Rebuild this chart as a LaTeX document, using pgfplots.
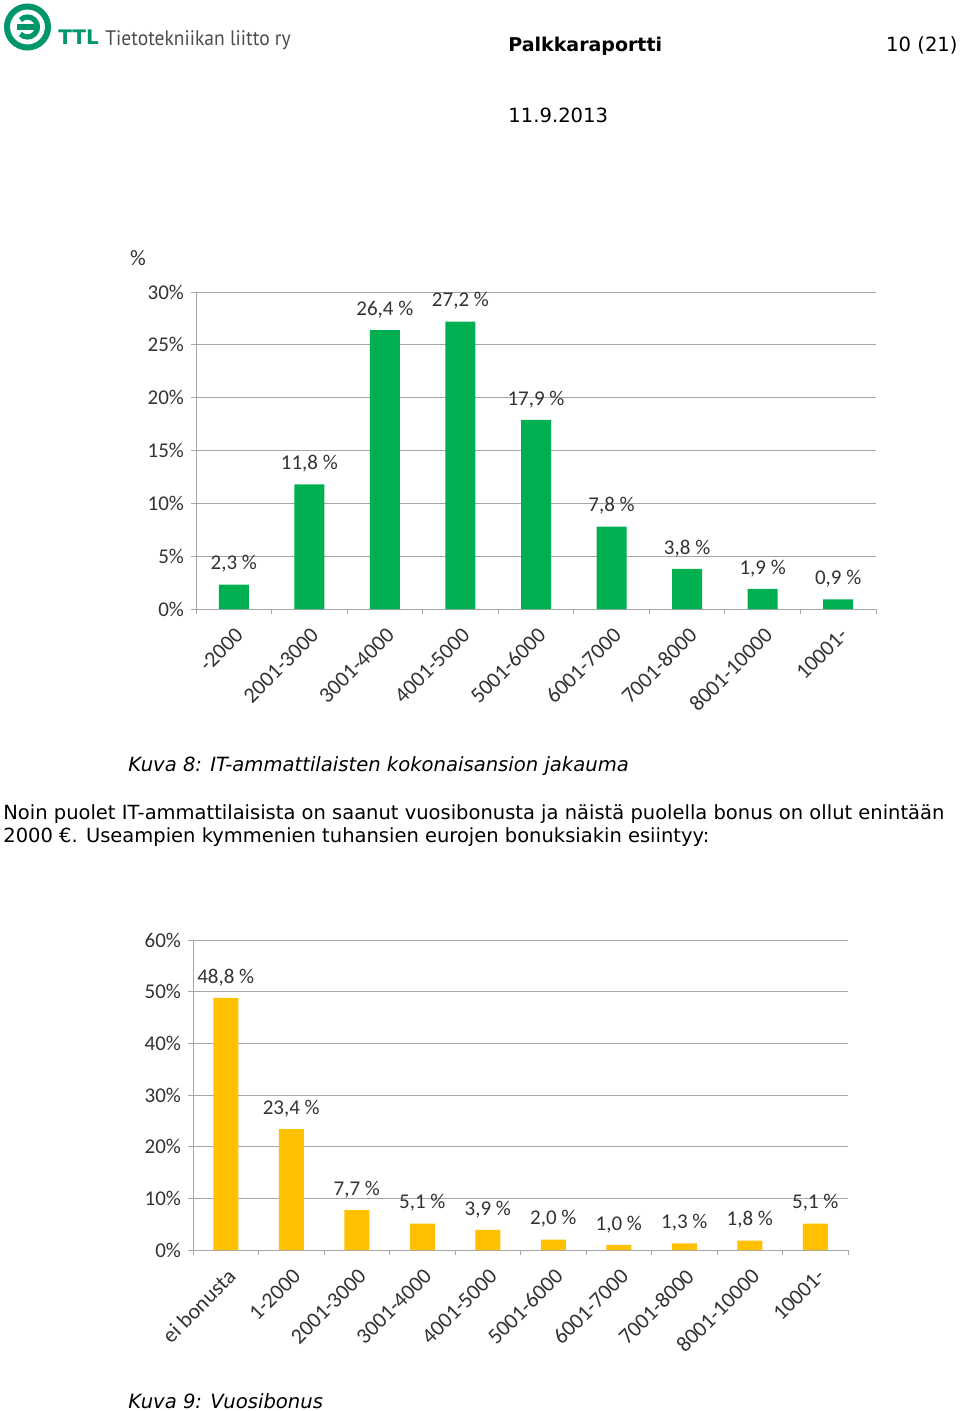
\documentclass[border=0pt]{standalone}
\usepackage{fontspec}
\usepackage{graphicx}
\usepackage{pgfplots}
\pgfplotsset{compat=1.18}
\setmainfont{DejaVu Sans}
\newfontfamily\calibri{Carlito}
\newfontfamily\ptsans{PT Sans}
\definecolor{barG}{HTML}{00B050}
\definecolor{barY}{HTML}{FFC000}
\definecolor{ttl}{HTML}{00966C}
\definecolor{gridc}{HTML}{A6A6A6}
\definecolor{lbl}{HTML}{333333}

\pgfplotsset{
  mybar/.style={
    scale only axis,
    axis x line*=bottom, axis y line*=left,
    axis line style={draw=gridc,-},
    ymajorgrids, grid style={draw=gridc, line width=0.5pt},
    tick align=outside, major tick length=2.5pt,
    tick style={draw=gridc, line width=0.5pt},
    ymin=0,
    ybar,
    yticklabel style={font=\calibri\fontsize{10.5}{12}\selectfont, text=lbl},
    xticklabels={},
    extra x tick style={major tick length=0pt},
    extra x tick labels={},
    extra x tick style={tick label style={rotate=45, anchor=north east, xshift=-2.5pt, yshift=-2.8pt, font=\calibri\fontsize{11}{12}\selectfont, text=lbl}},
    nodes near coords={\pgfmathprintnumber[fixed,fixed zerofill,precision=1,use comma,assume math mode=true]{\pgfplotspointmeta}~\%},
    every node near coord/.append style={font=\calibri\fontsize{10.5}{12}\selectfont, text=lbl, anchor=south, yshift=2.5pt},
  }
}

\begin{document}
\begin{tikzpicture}
\begin{scope}[x=0.5pt, y=-0.5pt]
  \useasboundingbox (0,0) rectangle (960,1411);
  % logo
  \draw[ttl, line width=3pt] (27.5,27) circle (20.5);
  \draw[ttl, line width=2.6pt] (27.5,27) ++(135:10) arc[start angle=135, end angle=-135, radius=10];
  \draw[ttl, line width=2.6pt] (17,27) -- (35,27);
  \node[anchor=base west, inner sep=0, text=ttl, font=\bfseries\fontsize{10}{12}\selectfont] at (58,45) {TTL};
  \node[anchor=base west, inner sep=0, text=black!70, font=\ptsans\fontsize{10.5}{12}\selectfont] at (105,46) {\scalebox{0.93}[1]{Tietotekniikan liitto ry}};
  % header
  \node[anchor=base west, inner sep=0, font=\bfseries\fontsize{9.5}{11}\selectfont] at (508,52) {Palkkaraportti};
  \node[anchor=base east, inner sep=0, font=\fontsize{9.8}{11}\selectfont] at (958,52) {10 (21)};
  \node[anchor=base west, inner sep=0, font=\fontsize{9.8}{11}\selectfont] at (508,123) {11.9.2013};
  % chart 1 unit
  \node[anchor=center, inner sep=0, text=lbl, font=\calibri\fontsize{11}{12}\selectfont] at (138,258) {\%};
  % captions and text
  \node[anchor=base west, inner sep=0, font=\itshape\fontsize{9.8}{11}\selectfont] at (128,771) {Kuva 8: IT-ammattilaisten kokonaisansion jakauma};
  \node[anchor=base west, inner sep=0, font=\fontsize{9.75}{11}\selectfont] at (3,819) {Noin puolet IT-ammattilaisista on saanut vuosibonusta ja näistä puolella bonus on ollut enintään};
  \node[anchor=base west, inner sep=0, font=\fontsize{9.75}{11}\selectfont] at (3,842) {2000 €. Useampien kymmenien tuhansien eurojen bonuksiakin esiintyy:};
  \node[anchor=base west, inner sep=0, font=\itshape\fontsize{9.8}{11}\selectfont] at (128,1408) {Kuva 9: Vuosibonus};
\end{scope}

\begin{axis}[mybar,
  at={(98pt,-304.5pt)}, anchor=south west,
  width=340pt, height=158.5pt,
  xmin=-0.5, xmax=8.5, ymax=30,
  ytick={0,5,...,30},
  yticklabels={0\%,5\%,10\%,15\%,20\%,25\%,30\%},
  xtick={-0.5,0.5,...,8.5},
  extra x ticks={0,1,...,8},
  extra x tick labels={{-2000},{2001-3000},{3001-4000},{4001-5000},{5001-6000},{6001-7000},{7001-8000},{8001-10000},{10001-}},
  bar width=15pt,
]
\addplot[fill=barG, draw=none] coordinates {(0,2.3) (1,11.8) (2,26.4) (3,27.2) (4,17.9) (5,7.8) (6,3.8) (7,1.9) (8,0.9)};
\end{axis}

\begin{axis}[mybar,
  at={(96.5pt,-625pt)}, anchor=south west,
  width=327.5pt, height=155pt,
  xmin=-0.5, xmax=9.5, ymax=60,
  ytick={0,10,...,60},
  yticklabels={0\%,10\%,20\%,30\%,40\%,50\%,60\%},
  xtick={-0.5,0.5,...,9.5},
  extra x ticks={0,1,...,9},
  extra x tick labels={{ei bonusta},{1-2000},{2001-3000},{3001-4000},{4001-5000},{5001-6000},{6001-7000},{7001-8000},{8001-10000},{10001-}},
  bar width=12.5pt,
]
\addplot[fill=barY, draw=none] coordinates {(0,48.8) (1,23.4) (2,7.7) (3,5.1) (4,3.9) (5,2.0) (6,1.0) (7,1.3) (8,1.8) (9,5.1)};
\end{axis}
\end{tikzpicture}
\end{document}
